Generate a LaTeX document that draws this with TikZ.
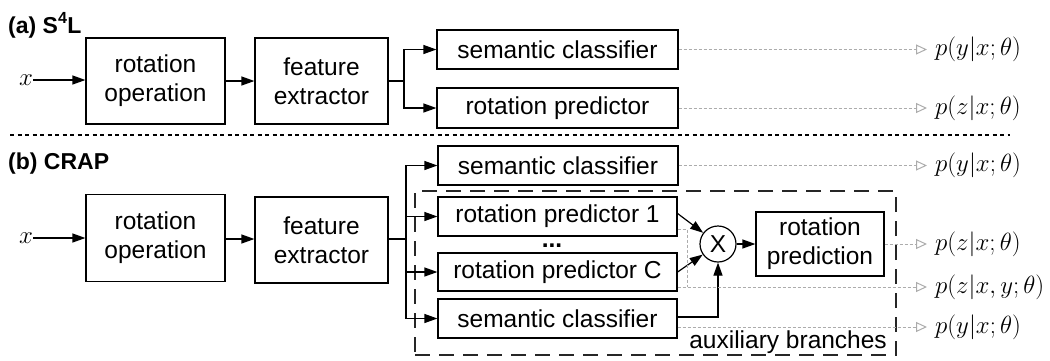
\documentclass[tikz,border=0pt]{standalone}
\usepackage[no-math]{fontspec}
\setmainfont{Liberation Sans}
\usetikzlibrary{arrows.meta,calc}
\begin{document}
\begin{tikzpicture}[x=1pt,y=-1pt,
 box/.style={draw,line width=1.2pt,inner sep=0pt,align=center,font=\fontsize{24.5}{29}\selectfont},
 arr/.style={line width=1.2pt,-{Triangle[length=13pt,width=9pt]}},
 ln/.style={line width=1.2pt},
 garr/.style={draw=gray!65,line width=1pt,dash pattern=on 3pt off 2pt,-{Triangle[open,length=11pt,width=10pt]},shorten >=8pt},
 gln/.style={draw=gray!65,line width=1pt,dash pattern=on 3pt off 2pt},
 lbl/.style={anchor=west,inner sep=0pt,font=\fontsize{24.5}{29}\selectfont},
 ttl/.style={anchor=base west,inner sep=0pt,font=\fontsize{23}{27}\selectfont\bfseries},
 sepline/.style={line width=1.2pt,dash pattern=on 4pt off 3.5pt},
 dbox/.style={draw=black!85,line width=1.3pt,dash pattern=on 15pt off 9pt}
]
\useasboundingbox (0,0) rectangle (1050,360);

% ---------- (a) ----------
\node[ttl] (ta) at (8,33) {(a) S\textsuperscript{4}L};
\node[inner sep=0pt,font=\fontsize{25}{29}\selectfont] (xa) at (26,80) {$x$};
\node[box,minimum width=139pt,minimum height=86pt] (rota) at (155.5,81) {rotation\\operation};
\node[box,minimum width=133pt,minimum height=86pt] (feata) at (321.5,81) {feature\\extractor};
\node[box,minimum width=241pt,minimum height=39pt] (sema) at (557.5,49.5) {semantic classifier};
\node[box,minimum width=241pt,minimum height=40pt] (rpa) at (557.5,108) {rotation predictor};
\node[lbl] (pya) at (935,49.5) {$p(y|x;\theta)$};
\node[lbl] (pza) at (935,108) {$p(z|x;\theta)$};
\coordinate (bra) at (404,81);
\draw[arr] (xa) -- (xa -| rota.west);
\draw[arr] (rota) -- (feata);
\draw[ln] (feata) -- (bra);
\draw[arr] (bra) |- (sema);
\draw[arr] (bra) |- (rpa);
\draw[garr] (sema) -- (pya);
\draw[garr] (rpa) -- (pza);

% separator
\coordinate (s1) at (10,135);
\coordinate (s2) at (1010,135);
\draw[sepline] (s1) -- (s2);

% ---------- (b) ----------
\node[ttl] (tb) at (8,169) {(b) CRAP};
\node[inner sep=0pt,font=\fontsize{25}{29}\selectfont] (xb) at (26,238) {$x$};
\node[box,minimum width=139pt,minimum height=87pt] (rotb) at (155.5,238) {rotation\\operation};
\node[box,minimum width=133pt,minimum height=86pt] (featb) at (321.5,240) {feature\\extractor};
\coordinate (brb) at (406,239);
\node[box,minimum width=240pt,minimum height=39pt] (semb) at (558,165.5) {semantic classifier};
\node[dbox,minimum width=481pt,minimum height=164pt,inner sep=0pt] (auxbox) at (655.5,273) {};
\node[box,minimum width=239pt,minimum height=39pt] (rp1) at (557.5,216.5) {rotation predictor 1};
\node[inner sep=0pt,anchor=base,font=\fontsize{24.5}{29}\selectfont\bfseries] (dots) at (552,247) {...};
\node[box,minimum width=239pt,minimum height=38pt] (rpC) at (557.5,272) {rotation predictor C};
\node[box,minimum width=239pt,minimum height=39pt] (semc) at (557.5,318.5) {semantic classifier};
\node[circle,draw,line width=1.2pt,minimum size=36pt,inner sep=0pt,font=\fontsize{24.5}{29}\selectfont] (mul) at (718,244) {X};
\node[box,minimum width=128pt,minimum height=64pt] (rpred) at (820,244) {rotation\\prediction};
\node[anchor=base east,inner sep=0pt,font=\fontsize{24.5}{29}\selectfont] (aux) at (887,348) {auxiliary branches};

\node[lbl] (pyb0) at (935,165.5) {$p(y|x;\theta)$};
\node[lbl] (pzb) at (935,244) {$p(z|x;\theta)$};
\node[lbl] (pzyb) at (935,287) {$p(z|x,y;\theta)$};
\node[lbl] (pyb) at (935,327) {$p(y|x;\theta)$};

\draw[arr] (xb) -- (xb -| rotb.west);
\draw[arr] (rotb.east |- brb) -- (featb.west |- brb);
\draw[ln] (featb.east |- brb) -- (brb);
\draw[arr] (brb) |- (semb);
\draw[arr] (brb) |- (rp1);
\draw[arr] (brb) |- (rpC);
\draw[arr] (brb) |- (semc);
\draw[arr] ([yshift=3pt]rp1.east) -- (mul);
\draw[arr] (rpC.east) -- (mul);
\draw[arr] ([yshift=1.5pt]semc.east) -| (mul);
\draw[arr] (mul) -- (rpred);

\coordinate (gc) at (687,287);
\draw[garr] (semb) -- (pyb0);
\draw[garr] (rpred) -- (pzb);
\draw[gln] ([yshift=-12.5pt]rp1.east) -| (gc);
\draw[garr] ([yshift=-15pt]rpC.east) -- (pzyb);
\draw[garr] ([yshift=-8.5pt]semc.east) -- (pyb);
\end{tikzpicture}
\end{document}
